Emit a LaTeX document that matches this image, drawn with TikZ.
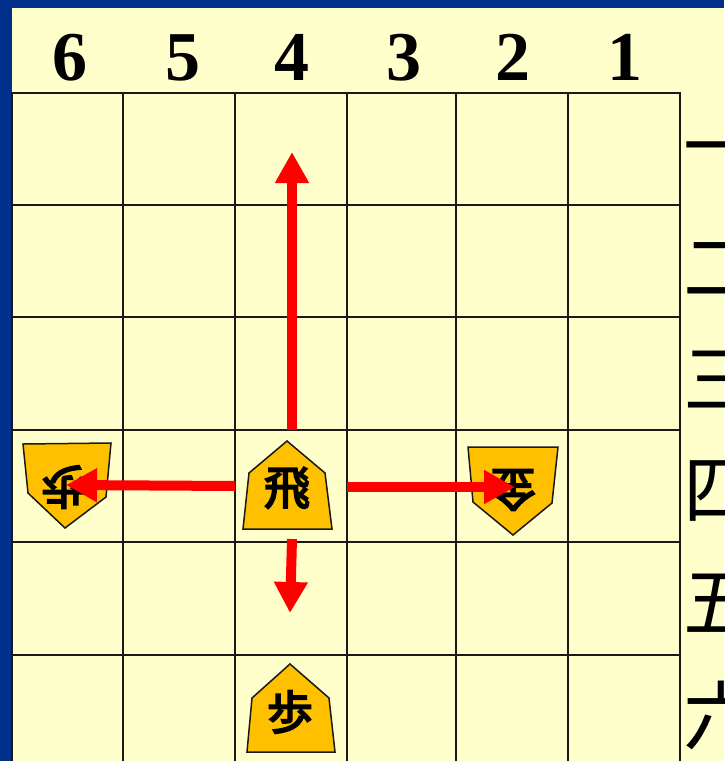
\documentclass[tikz,border=0pt]{standalone}
\usepackage{fontspec}
\setmainfont{Liberation Serif}
\newfontfamily\cjk{Noto Sans CJK JP}
\newfontfamily\cjkb[FakeBold=4]{Noto Sans CJK JP}
\usetikzlibrary{arrows.meta}
\definecolor{bordblue}{RGB}{0,48,140}
\definecolor{cream}{RGB}{255,255,204}
\definecolor{piecefill}{RGB}{255,192,0}
\begin{document}
\begin{tikzpicture}[x=1pt,y=-1pt,
  gridline/.style={line width=2.2pt, black!90},
  piece/.style={fill=piecefill, draw=black!90, line width=1.5pt, line join=miter},
  piecetext/.style={font=\cjkb\fontsize{46}{46}\selectfont, inner sep=0pt},
  move/.style={red, line width=10pt, -{Triangle[length=31pt,width=32pt]}},
  colnum/.style={font=\bfseries\fontsize{70}{70}\selectfont, inner sep=0pt, anchor=base},
  rownum/.style={font=\cjk\fontsize{76}{76}\selectfont, inner sep=0pt, anchor=west}]
\useasboundingbox (0,0) rectangle (724,761);
\begin{scope}
\clip (0,0) rectangle (724,761);
\fill[bordblue] (0,0) rectangle (724,761);
\fill[cream] (12,8) rectangle (724,761);
% grid
\foreach \x in {12,123,235,347,456,568,680}
  \draw[gridline] (\x,93) -- (\x,770);
\foreach \y in {93,205,317,430,542,655}
  \draw[gridline] (11,\y) -- (681,\y);
% column numbers
\node[colnum] (c6) at (70,80) {6};
\node[colnum] (c5) at (183,80) {5};
\node[colnum] (c4) at (292,80) {4};
\node[colnum] (c3) at (404,80) {3};
\node[colnum] (c2) at (513,80) {2};
\node[colnum] (c1) at (625,80) {1};
% row numbers
\node[rownum] (r1) at (683,158) {一};
\node[rownum] (r2) at (683,269) {二};
\node[rownum] (r3) at (683,380) {三};
\node[rownum] (r4) at (683,491) {四};
\node[rownum] (r5) at (683,603) {五};
\node[rownum] (r6) at (683,715) {六};
% pieces
\path[piece] (287,441) -- (325,473) -- (332,529) -- (243,529) -- (249,473) -- cycle;
\node[piecetext] (hi) at (287,488) {飛};
\path[piece] (290,664) -- (329,698) -- (335,752) -- (247,752) -- (252,698) -- cycle;
\node[piecetext] (fu) at (290,712) {歩};
\path[piece] (23,444) -- (111,443) -- (106,497) -- (65,528) -- (28,493) -- cycle;
\node[piecetext, rotate=180] (efu) at (64,487) {歩};
\path[piece] (468,447) -- (558,447) -- (552,503) -- (513,535) -- (473,502) -- cycle;
\node[piecetext, rotate=180] (ekin) at (513,490) {金};
% moves
\coordinate (upA) at (292,430);
\coordinate (upB) at (292,152);
\coordinate (dnA) at (292,539);
\coordinate (dnB) at (290,613);
\coordinate (ltA) at (235,486);
\coordinate (ltB) at (66,485);
\coordinate (rtA) at (347,487);
\coordinate (rtB) at (515,487);
\draw[move] (upA) -- (upB);
\draw[move] (dnA) -- (dnB);
\draw[move] (ltA) -- (ltB);
\draw[move] (rtA) -- (rtB);
\end{scope}
\end{tikzpicture}
\end{document}
